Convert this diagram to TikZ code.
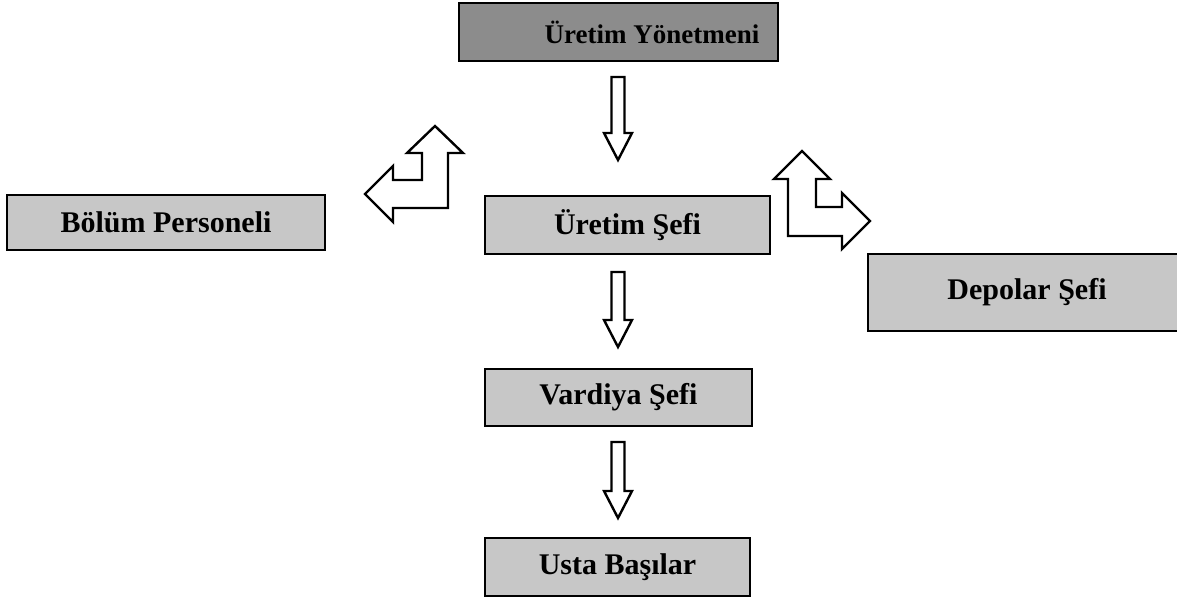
\documentclass[tikz,border=0pt]{standalone}
\usepackage{fontspec}
\setmainfont{Liberation Serif}
\begin{document}
\begin{tikzpicture}[x=1pt,y=-1pt,
  box/.style={draw=black, line width=2.2pt, fill=black!22, inner sep=0pt,
    font=\fontsize{30}{33}\selectfont\bfseries},
  darkbox/.style={box, fill=black!45},
  arrowline/.style={draw=black, line width=2.4pt, fill=white, line join=miter}]
\useasboundingbox (0,0) rectangle (1177,603);

% hollow block arrow pointing down: x, top of shaft, tip
\newcommand{\blockdown}[3]{%
  \draw[arrowline] (#1-6.5,#2) -- (#1+6.5,#2) -- (#1+6.5,#3-27) -- (#1+14,#3-27)
    -- (#1,#3) -- (#1-14,#3-27) -- (#1-6.5,#3-27) -- cycle;}

% boxes
\node[darkbox, minimum width=319, minimum height=58] (yon) at (618.5,32) {};
\node[font=\fontsize{27}{30}\selectfont\bfseries, inner sep=0pt] (yont) at (652,32) {Üretim Yönetmeni};
\node[box, minimum width=285, minimum height=58] (sef) at (627.5,225) {Üretim Şefi};
\node[box, minimum width=267, minimum height=57] (var) at (618.5,397.5) {Vardiya Şefi};
\node[box, minimum width=265, minimum height=58] (ust) at (617.5,567) {Usta Başılar};
\node[box, minimum width=318, minimum height=55] (bol) at (166,222.5) {Bölüm Personeli};
\node[box, draw=none, minimum width=316, minimum height=75] (dep) at (1027,292.5) {Depolar Şefi};
\draw[line width=2.2pt] (dep.north east) -- (dep.north west) -- (dep.south west) -- (dep.south east);

% downward arrows along the chain
\blockdown{618}{77}{160}
\blockdown{618}{272}{347}
\blockdown{618}{442}{518}

% L-shaped arrow towards Bölüm Personeli
\draw[arrowline] (435,126) -- (463,153) -- (448,153) -- (448,208) -- (393,208)
  -- (393,222) -- (365,194) -- (393,166) -- (393,180) -- (422,180) -- (422,153)
  -- (407,153) -- cycle;

% L-shaped arrow towards Depolar Şefi
\draw[arrowline] (802,151) -- (830,179) -- (816,179) -- (816,207) -- (842,207)
  -- (842,193) -- (870,221) -- (842,249) -- (842,236) -- (788,236) -- (788,179)
  -- (774,179) -- cycle;
\end{tikzpicture}
\end{document}
